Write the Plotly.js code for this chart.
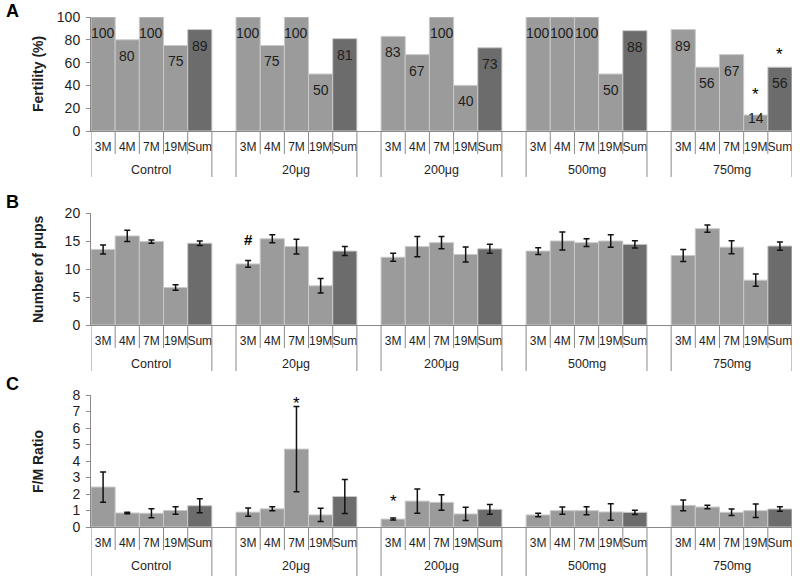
<!DOCTYPE html>
<html><head><meta charset="utf-8">
<script src="https://cdn.plot.ly/plotly-3.0.1.min.js"></script>
<style>html,body{margin:0;padding:0;background:#fff}#chart{width:800px;height:576px}</style>
</head><body><div id="chart"></div>
<script>
// ---- data ----
const groups = ['Control', '20μg', '200μg', '500mg', '750mg'];
const periods = ['3M', '4M', '7M', '19M', 'Sum'];
const fertility = [[100, 80, 100, 75, 89], [100, 75, 100, 50, 81], [83, 67, 100, 40, 73], [100, 100, 100, 50, 88], [89, 56, 67, 14, 56]];
const pups = [[13.5, 15.9, 14.9, 6.7, 14.6], [10.9, 15.4, 14.0, 7.0, 13.2], [12.1, 14.0, 14.7, 12.6, 13.6], [13.2, 15.0, 14.7, 15.0, 14.4], [12.4, 17.2, 13.9, 8.0, 14.1]];
const pupsErr = [[0.8, 1.0, 0.3, 0.5, 0.4], [0.6, 0.7, 1.3, 1.3, 0.8], [0.7, 1.8, 1.1, 1.35, 0.8], [0.6, 1.6, 0.7, 1.1, 0.65], [1.07, 0.65, 1.16, 1.1, 0.74]];
const ratio = [[2.42, 0.85, 0.83, 1.0, 1.29], [0.9, 1.1, 4.72, 0.73, 1.85], [0.48, 1.57, 1.49, 0.79, 1.07], [0.73, 0.99, 0.99, 0.91, 0.89], [1.31, 1.21, 0.89, 0.99, 1.09]];
const ratioErr = [[0.92, 0.05, 0.27, 0.22, 0.42], [0.25, 0.12, 2.58, 0.4, 1.03], [0.06, 0.73, 0.47, 0.4, 0.29], [0.11, 0.22, 0.24, 0.5, 0.13], [0.33, 0.11, 0.2, 0.41, 0.14]];
const sigFertility = [['750mg', '19M', '*'], ['750mg', 'Sum', '*']];
const sigPups = [['20μg', '3M', '#']];
const sigRatio = [['20μg', '7M', '*'], ['200μg', '3M', '*']];
const yTitles = ['Fertility (%)', 'Number of pups', 'F/M Ratio'];
const panelLetters = ['A', 'B', 'C'];

// ---- layout helpers ----
const FONT = 'Liberation Sans, Arial, sans-serif';
const W = 800, H = 576, ML = 91, MR = 8;
const PW = W - ML - MR;
const slot = periods.length + 1;
const xpos = (g, p) => g * slot + p;
const panels = [
  {top: 17, bot: 131, max: 100, dtick: 20, below: 46},
  {top: 213, bot: 325, max: 20, dtick: 5, below: 46},
  {top: 395, bot: 527, max: 8, dtick: 1, below: 49}
];
const BAR = '#9b9b9b', SUM = '#6c6c6c', EDGE = '#c9c9c9', AX = '#8a8a8a', TXT = '#1e1e1e';

const xs = [], xt = [];
groups.forEach((g, gi) => periods.forEach((p, pi) => { xs.push(xpos(gi, pi)); xt.push(p); }));
const colors = xt.map(p => p === 'Sum' ? SUM : BAR);
const flat = a => a.flat();

const traces = [
  {type: 'bar', x: xs, y: flat(fertility), xaxis: 'x', yaxis: 'y',
   marker: {color: colors, line: {color: EDGE, width: 1}}, hoverinfo: 'none'},
  {type: 'bar', x: xs, y: flat(pups), xaxis: 'x2', yaxis: 'y2',
   error_y: {type: 'data', array: flat(pupsErr), color: '#111', thickness: 1.5, width: 3},
   marker: {color: colors, line: {color: EDGE, width: 1}}, hoverinfo: 'none'},
  {type: 'bar', x: xs, y: flat(ratio), xaxis: 'x3', yaxis: 'y3',
   error_y: {type: 'data', array: flat(ratioErr), color: '#111', thickness: 1.5, width: 3},
   marker: {color: colors, line: {color: EDGE, width: 1}}, hoverinfo: 'none'}
];

const layout = {
  width: W, height: H, margin: {l: ML, r: MR, t: 0, b: 0},
  paper_bgcolor: '#fff', plot_bgcolor: '#fff', showlegend: false,
  bargap: 0, font: {family: FONT, color: TXT},
  annotations: [], shapes: []
};

panels.forEach((pn, i) => {
  const s = i === 0 ? '' : String(i + 1);
  const yname = 'y' + s;
  layout['xaxis' + s] = {
    anchor: yname, domain: [0, 1], range: [-0.5, groups.length * slot - 1.5],
    tickmode: 'array', tickvals: xs, ticktext: xt, ticks: '', tickangle: 0,
    ticklabeloverflow: 'allow',
    tickfont: {size: 12, color: TXT, family: FONT}, ticklabelstandoff: 5,
    showline: true, linecolor: AX, linewidth: 1, showgrid: false, zeroline: false, fixedrange: true
  };
  layout['yaxis' + s] = {
    anchor: 'x' + s, domain: [(H - pn.bot) / H, (H - pn.top) / H], range: [0, pn.max],
    dtick: pn.dtick, tick0: 0, ticks: 'outside', ticklen: 4, tickcolor: AX,
    tickfont: {size: 14, color: TXT, family: FONT}, ticklabelstandoff: 3,
    showline: true, linecolor: AX, linewidth: 1, showgrid: false, zeroline: false, fixedrange: true
  };
  const yd = yname + ' domain';
  // separators
  groups.forEach((g, gi) => {
    [xpos(gi, 0) - 0.5, xpos(gi, periods.length - 1) + 0.5].forEach(xv => layout.shapes.push({
      type: 'line', xref: 'x' + s, yref: yd, ysizemode: 'pixel', yanchor: 0,
      x0: xv, x1: xv, y0: 0, y1: -pn.below, line: {color: AX, width: 1}}));
    for (let pi = 1; pi < periods.length; pi++) {
      const xv = xpos(gi, pi) - 0.5;
      layout.shapes.push({type: 'line', xref: 'x' + s, yref: yd, ysizemode: 'pixel', yanchor: 0,
        x0: xv, x1: xv, y0: 0, y1: -23, line: {color: AX, width: 1}});
    }
    layout.annotations.push({xref: 'x' + s, yref: yd, x: xpos(gi, 2), y: 0, yshift: -39,
      yanchor: 'middle', xanchor: 'center', text: g, showarrow: false,
      font: {size: 12.5, color: TXT, family: FONT}});
  });
  // y title
  layout.annotations.push({xref: 'paper', yref: yd, x: (38 - ML) / PW, y: 0.5, textangle: -90,
    xanchor: 'center', yanchor: 'middle', text: '<b>' + yTitles[i] + '</b>', showarrow: false,
    font: {size: 14, color: TXT, family: FONT}});
  // panel letter
  const ly = [11, 202, 384][i];
  layout.annotations.push({xref: 'paper', yref: 'paper', x: (12 - ML) / PW, y: (H - ly) / H,
    xanchor: 'center', yanchor: 'middle', text: '<b>' + panelLetters[i] + '</b>', showarrow: false,
    font: {size: 18, color: '#000', family: FONT}});
});

// value labels on fertility bars
const pxA = (panels[0].bot - panels[0].top) / panels[0].max;
fertility.forEach((row, gi) => row.forEach((v, pi) => {
  const tall = v * pxA >= 34;
  layout.annotations.push({xref: 'x', yref: 'y', x: xpos(gi, pi), y: v, yshift: tall ? -16 : -3,
    yanchor: 'middle', xanchor: 'center', text: String(v), showarrow: false,
    font: {size: 14, color: TXT, family: FONT}});
}));

// significance marks
sigFertility.forEach(([g, p, sym]) => {
  const gi = groups.indexOf(g), pi = periods.indexOf(p);
  const v = fertility[gi][pi];
  const tall = v * pxA >= 34;
  layout.annotations.push({xref: 'x', yref: 'y', x: xpos(gi, pi), y: v, yshift: tall ? 13 : 21,
    yanchor: 'middle', text: sym, showarrow: false, font: {size: 17, color: '#000', family: FONT}});
});
sigPups.forEach(([g, p, sym]) => {
  const gi = groups.indexOf(g), pi = periods.indexOf(p);
  layout.annotations.push({xref: 'x2', yref: 'y2', x: xpos(gi, pi), y: pups[gi][pi] + pupsErr[gi][pi],
    yshift: 21, yanchor: 'middle', text: '<b>' + sym + '</b>', showarrow: false,
    font: {size: 15, color: '#000', family: FONT}});
});
const ratioLift = {'20μg7M': 3, '200μg3M': 17};
sigRatio.forEach(([g, p, sym]) => {
  const gi = groups.indexOf(g), pi = periods.indexOf(p);
  layout.annotations.push({xref: 'x3', yref: 'y3', x: xpos(gi, pi), y: ratio[gi][pi] + ratioErr[gi][pi],
    yshift: ratioLift[g + p], yanchor: 'middle', text: sym, showarrow: false,
    font: {size: 17, color: '#000', family: FONT}});
});

Plotly.newPlot('chart', traces, layout, {staticPlot: true, displayModeBar: false});
</script></body></html>
